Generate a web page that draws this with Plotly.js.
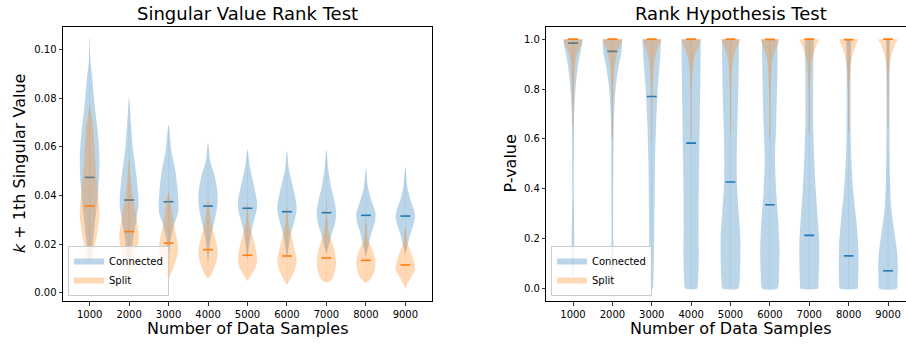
<!DOCTYPE html>
<html><head><meta charset="utf-8">
<script src="https://cdn.plot.ly/plotly-3.0.1.min.js"></script>
<style>html,body{margin:0;padding:0;background:#fff}#chart{width:906px;height:344px}</style>
</head><body><div id="chart"></div>
<script>
// ---- categories ----
const sampleSizes = ['1000','2000','3000','4000','5000','6000','7000','8000','9000'];
const positions = [1,2,3,4,5,6,7,8,9];
const seriesNames = ['Connected','Split'];

// ---- Singular Value Rank Test: violin profiles [value, relative density] from top to bottom ----
const svConnectedProfiles = [
  [[0.1046,0],[0.095,0.08],[0.0895,0.24],[0.076,0.54],[0.065,0.85],[0.055,1.0],[0.0455,0.93],[0.036,0.73],[0.0278,0.5],[0.0196,0.3],[0.0142,0.12],[0.012,0]],
  [[0.0802,0],[0.069,0.19],[0.058,0.42],[0.0475,0.76],[0.040,0.93],[0.036,0.95],[0.0307,0.76],[0.0225,0.42],[0.0142,0.2],[0.010,0]],
  [[0.0689,0],[0.058,0.3],[0.0497,0.7],[0.0415,0.93],[0.0333,0.98],[0.0278,0.55],[0.0225,0.25],[0.017,0.1],[0.012,0]],
  [[0.0614,0],[0.0545,0.2],[0.0477,0.68],[0.0422,0.93],[0.0381,0.98],[0.034,0.88],[0.0285,0.6],[0.0231,0.3],[0.0175,0.12],[0.012,0]],
  [[0.0587,0],[0.0518,0.24],[0.045,0.6],[0.0381,0.95],[0.0354,0.98],[0.0312,0.76],[0.0258,0.42],[0.0203,0.2],[0.014,0]],
  [[0.058,0],[0.0504,0.2],[0.0436,0.6],[0.0367,0.95],[0.034,0.98],[0.0285,0.7],[0.0244,0.4],[0.019,0.18],[0.0145,0]],
  [[0.0587,0],[0.0504,0.2],[0.0436,0.47],[0.0381,0.8],[0.0333,0.98],[0.0285,0.88],[0.0244,0.55],[0.0203,0.3],[0.016,0]],
  [[0.0511,0],[0.0436,0.2],[0.0381,0.55],[0.0326,0.98],[0.0285,0.88],[0.0244,0.55],[0.019,0.25],[0.015,0]],
  [[0.0518,0],[0.0436,0.2],[0.0381,0.52],[0.034,0.88],[0.0312,0.98],[0.0271,0.76],[0.023,0.42],[0.019,0.2],[0.016,0]]
];
const svSplitProfiles = [
  [[0.0772,0],[0.073,0.15],[0.069,0.34],[0.058,0.5],[0.0475,0.68],[0.036,0.96],[0.0318,1.0],[0.025,0.8],[0.0196,0.55],[0.0142,0.3],[0.012,0]],
  [[0.0552,0],[0.0475,0.15],[0.038,0.42],[0.0307,0.76],[0.0225,1.0],[0.017,0.76],[0.0128,0.4],[0.008,0.1],[0.004,0]],
  [[0.0419,0],[0.036,0.25],[0.0278,0.55],[0.0209,0.9],[0.017,0.98],[0.0114,0.6],[0.0073,0.2],[0.006,0]],
  [[0.0388,0],[0.0327,0.2],[0.0271,0.42],[0.0216,0.78],[0.0175,0.98],[0.0134,0.88],[0.0093,0.55],[0.0072,0.3],[0.0059,0]],
  [[0.0368,0],[0.0289,0.17],[0.0235,0.5],[0.0189,0.8],[0.0134,0.98],[0.0107,0.85],[0.008,0.5],[0.0048,0]],
  [[0.0353,0],[0.0285,0.18],[0.0231,0.47],[0.0175,0.8],[0.0134,0.98],[0.0093,0.8],[0.0059,0.4],[0.0032,0]],
  [[0.037,0],[0.031,0.08],[0.0244,0.27],[0.0203,0.6],[0.0162,0.88],[0.0121,0.98],[0.008,0.8],[0.0052,0.5],[0.0041,0]],
  [[0.0313,0],[0.027,0.08],[0.0217,0.2],[0.0175,0.68],[0.0134,0.96],[0.0093,0.88],[0.0059,0.55],[0.0039,0]],
  [[0.0271,0],[0.0203,0.22],[0.0162,0.6],[0.0121,0.93],[0.0093,0.98],[0.0066,0.6],[0.0032,0.15],[0.0018,0]]
];
const svConnectedMedians = [0.0474,0.0381,0.0374,0.0356,0.0347,0.0333,0.0329,0.0318,0.0315];
const svSplitMedians     = [0.0356,0.0251,0.0204,0.0177,0.0154,0.0151,0.0143,0.0133,0.0114];

// ---- Rank Hypothesis Test: violin profiles [p-value, relative density] ----
const pvConnectedProfiles = [
  [[1.0,0.96],[0.977,0.91],[0.924,0.64],[0.857,0.39],[0.79,0.24],[0.723,0.14],[0.656,0.1],[0.4,0.07],[0.05,0.05]],
  [[1.0,1.0],[0.95,0.93],[0.897,0.66],[0.84,0.44],[0.79,0.3],[0.723,0.2],[0.656,0.14],[0.52,0.1],[0.255,0.08],[0.01,0.05]],
  [[1.0,0.95],[0.924,0.85],[0.79,0.6],[0.656,0.44],[0.52,0.34],[0.389,0.3],[0.255,0.27],[0.12,0.22],[0.015,0.15],[0.0,0.12]],
  [[1.0,0.98],[0.79,0.92],[0.523,0.82],[0.389,0.78],[0.255,0.76],[0.12,0.78],[0.03,0.7],[0.0,0.6]],
  [[1.0,0.85],[0.857,0.83],[0.656,0.7],[0.523,0.63],[0.416,0.66],[0.309,0.83],[0.202,1.0],[0.12,1.0],[0.04,0.93],[0.0,0.78]],
  [[1.0,0.8],[0.857,0.76],[0.656,0.64],[0.523,0.52],[0.389,0.64],[0.255,0.88],[0.146,0.98],[0.066,0.93],[0.0,0.76]],
  [[1.0,0.45],[0.857,0.4],[0.656,0.4],[0.523,0.5],[0.389,0.67],[0.282,0.86],[0.189,1.0],[0.095,1.0],[0.015,0.93],[0.0,0.9]],
  [[1.0,0.27],[0.857,0.2],[0.656,0.2],[0.523,0.27],[0.389,0.47],[0.282,0.76],[0.189,0.95],[0.095,1.0],[0.015,0.95],[0.0,0.9]],
  [[1.0,0.18],[0.656,0.15],[0.456,0.2],[0.322,0.33],[0.229,0.64],[0.149,0.92],[0.082,1.0],[0.029,0.95],[0.0,0.9]]
];
const pvSplitProfiles = [
  [[1.0,0.96],[0.977,0.8],[0.95,0.47],[0.924,0.3],[0.857,0.17],[0.79,0.1],[0.71,0.05],[0.65,0.02]],
  [[1.0,1.0],[0.977,0.8],[0.95,0.5],[0.91,0.3],[0.857,0.17],[0.723,0.06],[0.6,0.015]],
  [[1.0,0.95],[0.977,0.75],[0.95,0.5],[0.924,0.33],[0.857,0.17],[0.79,0.09],[0.656,0.03],[0.6,0.015]],
  [[1.0,0.98],[0.977,0.8],[0.95,0.5],[0.924,0.33],[0.883,0.17],[0.79,0.06],[0.6,0.015]],
  [[1.0,1.0],[0.977,0.75],[0.95,0.45],[0.924,0.3],[0.883,0.17],[0.79,0.07],[0.62,0.015]],
  [[1.0,1.0],[0.977,0.75],[0.95,0.5],[0.924,0.3],[0.883,0.18],[0.79,0.08],[0.6,0.015]],
  [[1.0,1.0],[0.977,0.75],[0.95,0.5],[0.924,0.32],[0.883,0.18],[0.79,0.07],[0.62,0.015]],
  [[1.0,1.0],[0.977,0.75],[0.95,0.5],[0.924,0.32],[0.883,0.18],[0.79,0.07],[0.62,0.015]],
  [[1.0,1.0],[0.977,0.7],[0.95,0.45],[0.924,0.28],[0.883,0.12],[0.79,0.05],[0.65,0.015]]
];
const pvConnectedMedians = [0.984,0.951,0.770,0.583,0.427,0.336,0.213,0.131,0.071];
const pvSplitMedians     = [1.0,1.0,1.0,1.0,1.0,0.999,1.0,0.998,1.0];

// ---- styling ----
const HALF = 0.25;       // half of violin width (matplotlib widths=0.5)
const MED_HALF = 0.125;  // half length of median marker
const BLUE = '#1f77b4', ORANGE = '#ff7f0e';
const BLUE_A = 'rgba(31,119,180,0.3)', ORANGE_A = 'rgba(255,127,14,0.3)';
const BLUE_BAR = 'rgba(31,119,180,0.08)', ORANGE_BAR = 'rgba(255,127,14,0.08)';
const FONT = 'DejaVu Sans, Liberation Sans, sans-serif';

function bodyPath(profiles) {
  const xs = [], ys = [];
  profiles.forEach((prof, i) => {
    const p = positions[i];
    prof.forEach(([v, w]) => { xs.push(p + HALF * w); ys.push(v); });
    for (let j = prof.length - 1; j >= 0; j--) { const [v, w] = prof[j]; xs.push(p - HALF * w); ys.push(v); }
    xs.push(null); ys.push(null);
  });
  return {xs, ys};
}
function barPath(profiles) {
  const xs = [], ys = [];
  profiles.forEach((prof, i) => {
    xs.push(positions[i], positions[i], null);
    ys.push(prof[0][0], prof[prof.length - 1][0], null);
  });
  return {xs, ys};
}
function medPath(meds) {
  const xs = [], ys = [];
  meds.forEach((m, i) => { xs.push(positions[i] - MED_HALF, positions[i] + MED_HALF, null); ys.push(m, m, null); });
  return {xs, ys};
}
function group(profiles, meds, name, fill, barCol, col, xa, ya, leg) {
  const b = bodyPath(profiles), c = barPath(profiles), m = medPath(meds);
  return [
    {type:'scatter', mode:'none', x:b.xs, y:b.ys, fill:'toself', fillcolor:fill,
     line:{width:0, shape:'spline', smoothing:0.7}, name:name, legend:leg,
     xaxis:xa, yaxis:ya, hoverinfo:'skip', showlegend:true},
    {type:'scatter', mode:'lines', x:c.xs, y:c.ys, line:{width:1, color:barCol},
     xaxis:xa, yaxis:ya, hoverinfo:'skip', showlegend:false},
    {type:'scatter', mode:'lines', x:m.xs, y:m.ys, line:{width:1.6, color:col},
     xaxis:xa, yaxis:ya, hoverinfo:'skip', showlegend:false}
  ];
}

const traces = [].concat(
  group(svConnectedProfiles, svConnectedMedians, seriesNames[0], BLUE_A, BLUE_BAR, BLUE, 'x', 'y', 'legend'),
  group(svSplitProfiles, svSplitMedians, seriesNames[1], ORANGE_A, ORANGE_BAR, ORANGE, 'x', 'y', 'legend'),
  group(pvConnectedProfiles, pvConnectedMedians, seriesNames[0], BLUE_A, BLUE_BAR, BLUE, 'x2', 'y2', 'legend2'),
  group(pvSplitProfiles, pvSplitMedians, seriesNames[1], ORANGE_A, ORANGE_BAR, ORANGE, 'x2', 'y2', 'legend2')
);

const W = 906, H = 344;
const axBase = {showgrid:false, zeroline:false, showline:true, linecolor:'#000', linewidth:1,
  ticks:'outside', ticklen:3.5, tickwidth:0.8, tickcolor:'#000',
  tickfont:{family:FONT, size:10, color:'#000'}, fixedrange:true};
const legBase = {bgcolor:'rgba(255,255,255,0.8)', bordercolor:'#cccccc', borderwidth:1,
  font:{family:FONT, size:10, color:'#000'}, xanchor:'left', yanchor:'bottom', tracegroupgap:0,
  itemwidth:30};

const layout = {
  width:W, height:H, margin:{l:0, r:0, t:0, b:0}, paper_bgcolor:'#fff', plot_bgcolor:'#fff',
  font:{family:FONT},
  xaxis: Object.assign({}, axBase, {domain:[63/W, 432/W], range:[0.325, 9.675], mirror:true,
    tickvals:positions, ticktext:sampleSizes, anchor:'y'}),
  yaxis: Object.assign({}, axBase, {domain:[43/H, 317/H], range:[-0.0034, 0.1092], mirror:true,
    tick0:0, dtick:0.02, tickformat:'.2f', anchor:'x'}),
  xaxis2: Object.assign({}, axBase, {domain:[546.3/W, 1], range:[0.322, 9.457], mirror:true,
    tickvals:positions, ticktext:sampleSizes, anchor:'y2'}),
  yaxis2: Object.assign({}, axBase, {domain:[43/H, 317.3/H], range:[-0.05, 1.05], mirror:false,
    tick0:0, dtick:0.2, tickformat:'.1f', anchor:'x2'}),
  legend: Object.assign({}, legBase, {x:68/W, y:48/H}),
  legend2: Object.assign({}, legBase, {x:551/W, y:48/H}),
  showlegend:true,
  annotations:[
    {text:'Singular Value Rank Test', xref:'paper', yref:'paper', x:247.5/W, y:(H-13.5)/H,
     xanchor:'center', yanchor:'middle', showarrow:false, font:{family:FONT, size:18, color:'#000'}},
    {text:'Rank Hypothesis Test', xref:'paper', yref:'paper', x:730.5/W, y:(H-13.5)/H,
     xanchor:'center', yanchor:'middle', showarrow:false, font:{family:FONT, size:18, color:'#000'}},
    {text:'Number of Data Samples', xref:'paper', yref:'paper', x:247.5/W, y:(H-328)/H,
     xanchor:'center', yanchor:'middle', showarrow:false, font:{family:FONT, size:16, color:'#000'}},
    {text:'Number of Data Samples', xref:'paper', yref:'paper', x:730.5/W, y:(H-328)/H,
     xanchor:'center', yanchor:'middle', showarrow:false, font:{family:FONT, size:16, color:'#000'}},
    {text:'<i>k</i> + 1th Singular Value', xref:'paper', yref:'paper', x:19/W, y:(H-164)/H,
     textangle:-90, xanchor:'center', yanchor:'middle', showarrow:false, font:{family:FONT, size:16, color:'#000'}},
    {text:'P-value', xref:'paper', yref:'paper', x:509.5/W, y:(H-164)/H,
     textangle:-90, xanchor:'center', yanchor:'middle', showarrow:false, font:{family:FONT, size:16, color:'#000'}}
  ]
};

Plotly.newPlot('chart', traces, layout, {displayModeBar:false, staticPlot:true});
</script>
</body></html>
